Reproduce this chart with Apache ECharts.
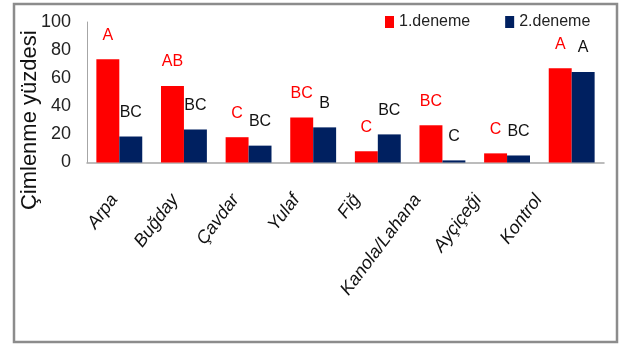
<!DOCTYPE html>
<html>
<head>
<meta charset="utf-8">
<script src="https://cdn.jsdelivr.net/npm/echarts@6/dist/echarts.min.js"></script>
<style>
  html, body { margin: 0; padding: 0; background: #fff; }
  #chart { width: 619px; height: 345px; }
</style>
</head>
<body>
<div id="chart"></div>
<script>
// Germination percentage per plant extract, two trials
const categories = ['Arpa', 'Buğday', 'Çavdar', 'Yulaf', 'Fiğ', 'Kanola/Lahana', 'Ayçiçeği', 'Kontrol'];
const trial1 = [73.5, 54.5, 18, 32, 8, 26.5, 6.5, 67];
const trial2 = [18.5, 23.5, 12, 25, 20, 1.5, 5, 64.5];
const trial1Letters = ['A', 'AB', 'C', 'BC', 'C', 'BC', 'C', 'A'];
const trial2Letters = ['BC', 'BC', 'BC', 'B', 'BC', 'C', 'BC', 'A'];
const seriesNames = ['1.deneme', '2.deneme'];
const yTicks = { min: 0, max: 100, interval: 20 };

const FONT = "'Liberation Sans', Arial, sans-serif";
const RED = '#ff0000';
const NAVY = '#002060';

const chart = echarts.init(document.getElementById('chart'), null, { renderer: 'canvas' });

function letterLabel(letters, color) {
  return {
    show: true,
    position: 'top',
    distance: 16,
    color: color,
    fontFamily: FONT,
    fontSize: 16,
    formatter: p => letters[p.dataIndex]
  };
}

chart.setOption({
  animation: false,
  backgroundColor: '#fff',
  textStyle: { fontFamily: FONT },
  graphic: [{
    type: 'rect',
    shape: { x: 14, y: 4, width: 603, height: 338 },
    style: { fill: 'none', stroke: '#8c8c8c', lineWidth: 2.5 },
    silent: true
  }],
  legend: {
    data: seriesNames,
    top: 9,
    left: 380,
    width: 234,
    itemWidth: 9,
    itemHeight: 12,
    itemGap: 35,
    icon: 'rect',
    textStyle: { fontFamily: FONT, fontSize: 16, color: '#222' }
  },
  grid: [
    { left: 87, right: 15, top: 22, bottom: 182.5, containLabel: false },
    { left: 84, right: 50, top: 22, bottom: 182.5, containLabel: false }
  ],
  xAxis: [
    {
      type: 'category',
      gridIndex: 0,
      data: categories,
      axisLine: { lineStyle: { color: '#a6a6a6', width: 1.5 } },
      axisTick: { show: false },
      axisLabel: { show: false }
    },
    {
      // label row for the categories
      type: 'category',
      gridIndex: 1,
      data: categories,
      axisLine: { show: false },
      axisTick: { show: false },
      axisLabel: {
        interval: 0,
        rotate: 53,
        margin: 34,
        fontFamily: FONT,
        fontStyle: 'italic',
        fontSize: 18,
        color: '#111'
      }
    }
  ],
  yAxis: [
    {
      type: 'value',
      gridIndex: 0,
      min: yTicks.min,
      max: yTicks.max,
      interval: yTicks.interval,
      name: 'Çimlenme yüzdesi',
      nameLocation: 'middle',
      nameRotate: 90,
      nameGap: 46,
      nameMoveOverlap: false,
      nameTextStyle: {
        fontFamily: FONT,
        fontSize: 22,
        color: '#111',
        padding: [0, 56, 0, 0]
      },
      axisLine: { show: true, lineStyle: { color: '#a6a6a6', width: 1 } },
      axisTick: { show: false },
      splitLine: { show: false },
      axisLabel: { fontFamily: FONT, fontSize: 18, color: '#222', margin: 16 }
    },
    { type: 'value', gridIndex: 1, show: false, min: 0, max: 100 }
  ],
  series: [
    {
      name: seriesNames[0],
      type: 'bar',
      xAxisIndex: 0,
      yAxisIndex: 0,
      data: trial1,
      barGap: '0%',
      barCategoryGap: '29%',
      itemStyle: { color: RED },
      label: letterLabel(trial1Letters, RED)
    },
    {
      name: seriesNames[1],
      type: 'bar',
      xAxisIndex: 0,
      yAxisIndex: 0,
      data: trial2,
      barGap: '0%',
      barCategoryGap: '29%',
      itemStyle: { color: NAVY },
      label: letterLabel(trial2Letters, '#111')
    }
  ]
});
</script>
</body>
</html>
